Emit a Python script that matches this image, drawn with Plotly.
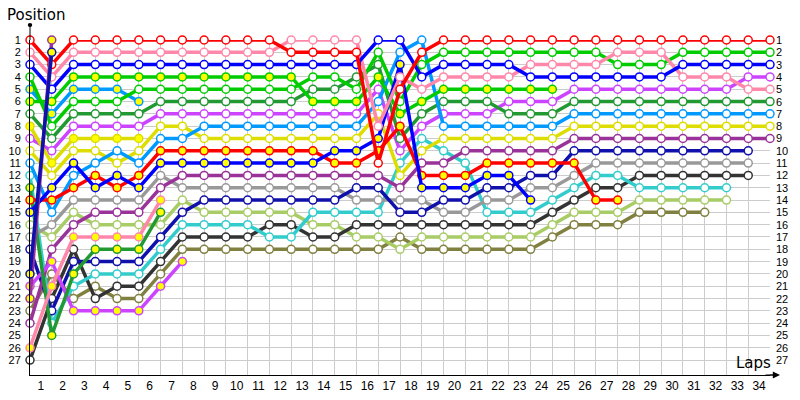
import plotly.graph_objects as go

# ---------------- data: position of each car at every lap (lap 0 = grid) ----------------
lap_labels = [str(k) for k in range(1, 35)]
positions_axis = list(range(1, 28))

red_open = [1, 3] + [1]*10 + [2]*4 + [11, 5, 2] + [1]*16
red_yel = [14, 14, 13, 12, 13, 12] + [10]*8 + [11]*2 + [10, 8] + [12]*3 + [11]*5 + [14]*2
pink_open = [2, 4] + [2]*10 + [1]*4 + [8, 4, 5] + [4]*4 + [3]*4 + [2]*3 + [4]*3 + [5]*2
pink_yel = [26, 21, 17, 17, 17, 17, 14]
blue_open = [3, 5] + [3]*14 + [1, 1, 4] + [3]*4 + [4]*7 + [3]*5
blue_yel = [15, 13, 11, 13, 12, 13] + [11]*8 + [10]*2 + [9, 3] + [13]*3 + [12]*2 + [14]
green_open = [4, 8] + [6]*3 + [5]*8 + [4]*2 + [5, 2, 6, 3] + [2]*8 + [3]*3 + [2]*5
green_yel = [6, 6] + [4]*11 + [6]*3 + [4, 7, 6] + [5]*6
ltblue_open = [11, 15, 12, 11, 10, 11, 9, 9] + [8]*8 + [6, 2, 1] + [8]*6 + [7]*10
ltblue_yel = [5, 7, 5, 5, 5, 6]
dkgreen_open = [7, 9] + [7]*4 + [6]*7 + [5]*2 + [4, 3, 9, 7] + [6]*3 + [7]*3 + [6]*10
dkgreen_yel = [13, 25, 20, 18, 18, 18, 15]
violet_open = [9, 10] + [8]*4 + [7]*10 + [5, 10, 8] + [7]*3 + [6]*3 + [5]*8 + [4]*2
violet_yel = [21, 19, 23, 23, 23, 23, 21, 19]
yellow_open = [10, 12, 10, 10, 11, 10, 8, 8] + [9]*8 + [7, 12, 10] + [9]*6 + [8]*10
yellow_yel = [8, 11, 9, 9, 9, 9]
purple_open = [24, 18, 16, 15, 15, 15, 13] + [12]*10 + [13] + [11]*2 + [10]*5 + [9]*10
purple_yel = [22, 1]
navy_open = [18, 23] + [19]*4 + [17, 15] + [14]*7 + [13]*2 + [15]*2 + [14]*2 + [13]*2 + [12]*2 + [10]*9
navy_yel = [20, 2]
gray_open = [17, 16] + [14]*4 + [12] + [13]*8 + [14]*4 + [15]*2 + [14]*2 + [13]*2 + [12] + [11]*8
black_open = [27, 22, 18, 22, 21, 21, 19] + [17]*4 + [16]*2 + [17]*2 + [16]*9 + [15, 14] + [13]*2 + [12]*6
cyan_open = [12, 24, 21, 20, 20, 20, 18] + [16]*4 + [17]*2 + [15]*4 + [11, 9, 10, 11] + [15]*3 + [14, 13] + [12]*2 + [13]*5
ltgreen_open = [16, 17, 15] + [16]*4 + [14] + [15]*5 + [16]*2 + [17]*2 + [18] + [17]*6 + [16] + [15]*3 + [14]*5
olive_open = [23, 20, 22, 21, 22, 22, 20] + [18]*10 + [17] + [18]*6 + [17] + [16]*3 + [15]*4

# series: (positions, line colour, marker fill)
series = [
    (olive_open, "#808040", "white"),
    (ltgreen_open, "#a8cc66", "white"),
    (black_open, "#333333", "white"),
    (cyan_open, "#33cccc", "white"),
    (gray_open, "#999999", "white"),
    (navy_open, "#1010aa", "white"),
    (purple_open, "#993399", "white"),
    (violet_yel, "#cc44ff", "#ffff00"),
    (violet_open, "#cc44ff", "white"),
    (dkgreen_yel, "#229933", "#ffff00"),
    (dkgreen_open, "#229933", "white"),
    (pink_yel, "#ff88aa", "#ffff00"),
    (yellow_yel, "#dddd00", "#ffff00"),
    (yellow_open, "#dddd00", "white"),
    (ltblue_yel, "#0099ff", "#ffff00"),
    (ltblue_open, "#0099ff", "white"),
    (green_yel, "#00cc00", "#ffff00"),
    (green_open, "#00cc00", "white"),
    (red_yel, "#ff0000", "#ffff00"),
    (blue_yel, "#0000ff", "#ffff00"),
    (pink_open, "#ff88aa", "white"),
    (blue_open, "#0000ff", "white"),
    (red_open, "#ff0000", "white"),
    (purple_yel, "#993399", "#ffff00"),
    (navy_yel, "#1010aa", "#ffff00"),
]

fig = go.Figure()
for pos, col, fill in series:
    fig.add_trace(go.Scatter(
        x=list(range(len(pos))), y=pos, mode="lines+markers",
        line=dict(color=col, width=3.5),
        marker=dict(size=8, color=fill, line=dict(color=col, width=1.5)),
        cliponaxis=False, hoverinfo="skip", showlegend=False))

FONT = "Liberation Sans, Arial, sans-serif"

fig.update_layout(
    width=800, height=400,
    margin=dict(l=30, r=30, t=40, b=25),
    paper_bgcolor="white", plot_bgcolor="white",
    font=dict(family=FONT, size=12, color="black"),
    xaxis=dict(
        range=[0, 34], tickvals=[k - 0.5 for k in range(1, 35)], ticktext=lap_labels,
        showgrid=False, zeroline=False, showline=True, linecolor="black", linewidth=1,
        ticks="", tickfont=dict(size=12, family=FONT), automargin=False,
        minor=dict(tickvals=list(range(0, 35)), showgrid=True, gridcolor="#cccccc", gridwidth=1),
    ),
    yaxis=dict(
        range=[28.21, 1], tickvals=positions_axis, ticktext=[str(p) for p in positions_axis],
        showgrid=True, gridcolor="#cccccc", gridwidth=1, zeroline=False,
        showline=True, linecolor="black", linewidth=1, ticks="", automargin=False,
        ticklabelstandoff=6, tickfont=dict(size=11, family=FONT),
    ),
)

# right-hand position labels
for p in positions_axis:
    fig.add_annotation(x=34, y=p, xref="x", yref="y", text=str(p), showarrow=False,
                       xanchor="left", xshift=4, font=dict(size=11, family=FONT))

# axis titles
fig.add_annotation(x=-0.034, y=1.075, xref="paper", yref="paper", text="Position",
                   showarrow=False, xanchor="left", yanchor="middle",
                   font=dict(size=15, family="DejaVu Sans, sans-serif"))
fig.add_annotation(x=1.004, y=0.035, xref="paper", yref="paper", text="Laps",
                   showarrow=False, xanchor="right", yanchor="middle",
                   font=dict(size=15, family="DejaVu Sans, sans-serif"))

# axis extensions / arrows
fig.add_shape(type="line", xref="paper", yref="paper", x0=0, x1=0, y0=1, y1=1.045,
              line=dict(color="black", width=1))
fig.add_shape(type="circle", xref="paper", yref="paper", x0=-0.003, x1=0.003, y0=1.039, y1=1.051,
              fillcolor="black", line=dict(color="black", width=0))
fig.add_shape(type="line", xref="paper", yref="paper", x0=1, x1=1.01, y0=0, y1=0,
              line=dict(color="black", width=1))
fig.add_annotation(x=1.0135, y=0, xref="paper", yref="paper", ax=-16, ay=0, text="",
                   showarrow=True, arrowhead=2, arrowsize=1.2, arrowwidth=1.2, arrowcolor="black")

fig.write_html("out.html", config={"displayModeBar": False},
               post_script="document.body.style.margin='0';document.body.style.overflow='hidden';")
